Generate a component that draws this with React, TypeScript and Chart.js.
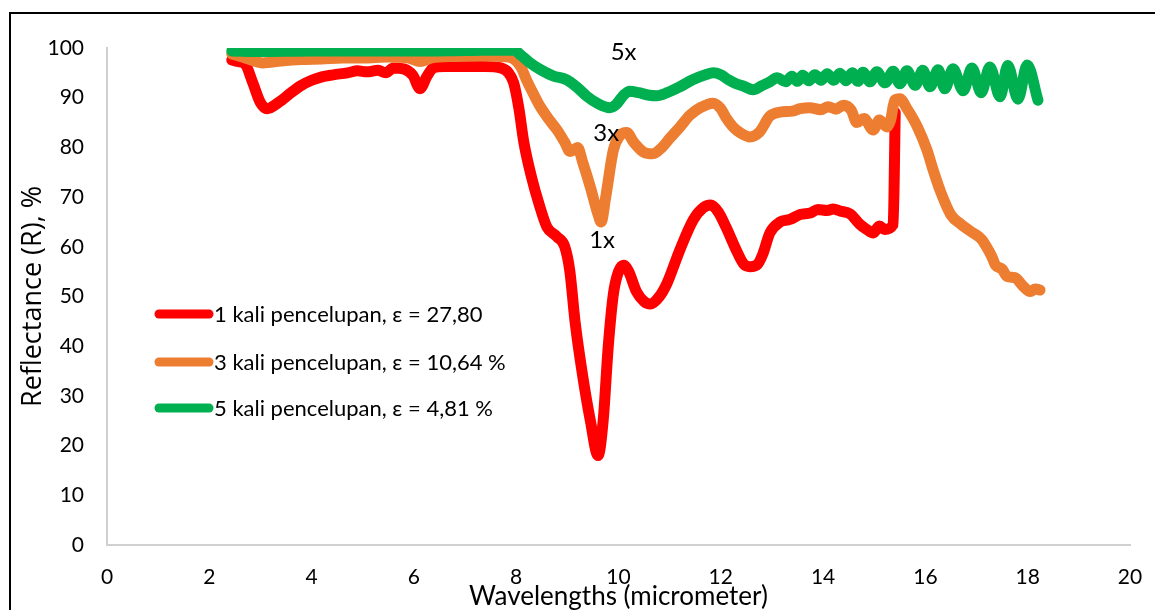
import React, { useEffect, useRef } from "react";
import { Chart, registerables } from "chart.js";
Chart.register(...registerables);

// Wavelength (micrometer) and reflectance (%) for each series
const wl1 = [2.44, 2.55, 2.7, 2.85, 3.0, 3.13, 3.35, 3.6, 3.77, 4.0, 4.2, 4.42, 4.7, 4.9, 5.08, 5.3, 5.45, 5.6, 5.8, 5.98, 6.12, 6.25, 6.38, 6.6, 7.0, 7.4, 7.7, 7.85, 7.95, 8.05, 8.15, 8.3, 8.45, 8.6, 8.8, 8.95, 9.05, 9.15, 9.3, 9.45, 9.6, 9.7, 9.8, 9.9, 10.0, 10.1, 10.2, 10.35, 10.5, 10.62, 10.8, 10.95, 11.2, 11.46, 11.65, 11.8, 11.95, 12.1, 12.3, 12.45, 12.57, 12.72, 12.82, 12.96, 13.16, 13.35, 13.55, 13.75, 13.9, 14.08, 14.2, 14.33, 14.53, 14.72, 14.85, 14.98, 15.1, 15.2, 15.37, 15.41];
const r1 = [97.6, 97.3, 96.8, 93.0, 89.0, 87.8, 89.0, 91.0, 92.3, 93.5, 94.2, 94.6, 95.0, 95.4, 95.2, 95.5, 95.0, 96.0, 95.8, 94.5, 91.8, 94.2, 96.0, 96.3, 96.3, 96.3, 96.0, 95.0, 93.0, 88.0, 81.0, 74.0, 68.5, 64.0, 62.0, 60.0, 55.0, 45.0, 34.0, 25.0, 18.0, 25.0, 40.0, 50.5, 55.0, 56.3, 55.0, 51.0, 49.0, 48.5, 50.0, 52.7, 59.4, 65.4, 67.8, 68.4, 67.0, 64.0, 59.4, 56.5, 56.0, 56.5, 58.5, 62.8, 65.0, 65.5, 66.5, 66.8, 67.5, 67.3, 67.6, 67.2, 66.6, 64.5, 63.5, 62.8, 64.2, 63.5, 64.5, 87.0];

const wl3 = [2.44, 2.7, 3.05, 3.4, 3.8, 4.2, 4.6, 5.0, 5.5, 5.9, 6.12, 6.35, 6.8, 7.3, 7.7, 7.95, 8.1, 8.2, 8.35, 8.47, 8.65, 8.8, 8.95, 9.05, 9.12, 9.2, 9.3, 9.45, 9.6, 9.66, 9.75, 9.9, 10.02, 10.16, 10.3, 10.5, 10.67, 10.85, 11.0, 11.2, 11.4, 11.6, 11.85, 12.0, 12.1, 12.24, 12.4, 12.57, 12.75, 12.96, 13.16, 13.4, 13.55, 13.74, 13.95, 14.1, 14.25, 14.4, 14.55, 14.66, 14.8, 14.98, 15.1, 15.25, 15.32, 15.4, 15.5, 15.64, 15.85, 16.03, 16.15, 16.3, 16.5, 16.7, 16.9, 17.1, 17.17, 17.3, 17.37, 17.5, 17.6, 17.75, 17.9, 18.05, 18.15, 18.24];
const r3 = [98.8, 98.0, 97.0, 97.4, 97.7, 97.8, 98.0, 98.0, 98.2, 98.0, 97.3, 98.0, 98.3, 98.4, 98.3, 97.8, 96.0, 93.6, 90.5, 88.2, 85.5, 83.5, 81.0, 79.2, 79.5, 80.0, 77.0, 72.0, 66.5, 65.0, 70.0, 79.5, 82.3, 83.0, 81.0, 79.0, 78.7, 80.0, 81.8, 84.1, 86.5, 88.0, 88.9, 87.8, 86.0, 84.1, 82.8, 82.1, 83.0, 86.3, 87.1, 87.3, 87.8, 88.0, 87.6, 88.2, 87.7, 88.5, 87.5, 85.0, 85.8, 83.5, 85.5, 84.1, 85.5, 89.5, 89.8, 87.8, 84.0, 79.5, 75.5, 71.0, 66.4, 64.5, 63.0, 61.5, 60.4, 58.0, 56.3, 55.5, 54.0, 53.8, 52.2, 51.0, 51.5, 51.3];

const wl5 = [2.44, 3.0, 4.0, 5.0, 6.0, 7.0, 7.95, 8.1, 8.27, 8.5, 8.72, 8.99, 9.2, 9.38, 9.6, 9.83, 9.95, 10.1, 10.22, 10.4, 10.6, 10.75, 10.95, 11.2, 11.45, 11.7, 11.85, 12.0, 12.15, 12.3, 12.45, 12.63, 12.8, 12.96, 13.1, 13.27, 13.39, 13.5, 13.6, 13.72, 13.84, 13.96, 14.08, 14.21, 14.33, 14.45, 14.57, 14.68, 14.78, 14.92, 15.05, 15.21, 15.37, 15.5, 15.64, 15.8, 15.95, 16.09, 16.25, 16.38, 16.54, 16.74, 16.91, 17.09, 17.26, 17.46, 17.61, 17.81, 17.99, 18.2];
const r5 = [99.4, 99.3, 99.4, 99.4, 99.4, 99.5, 99.6, 98.5, 97.0, 95.5, 94.4, 93.6, 92.0, 90.3, 88.8, 88.0, 88.6, 90.5, 91.3, 91.0, 90.5, 90.4, 91.0, 92.2, 93.6, 94.6, 95.0, 94.6, 93.6, 92.8, 92.3, 91.6, 92.4, 93.2, 94.0, 93.2, 94.3, 93.3, 94.5, 93.4, 94.6, 93.5, 94.8, 93.5, 94.9, 93.4, 95.0, 93.3, 95.1, 93.2, 95.2, 93.0, 95.3, 92.8, 95.4, 92.5, 95.5, 92.2, 95.6, 91.8, 95.8, 91.4, 96.0, 91.0, 96.2, 90.2, 96.5, 89.7, 96.6, 89.5];

const seriesNames = ["1 kali pencelupan, ε = 27,80", "3 kali pencelupan, ε = 10,64 %", "5 kali pencelupan, ε = 4,81 %"];
const seriesColors = ["#FF0000", "#ED7D31", "#00B050"];
const curveLabels = ["1x", "3x", "5x"];
const curveLabelX = [9.68, 9.76, 10.1];
const curveLabelY = [61.4, 82.9, 99.2];
const xTitle = "Wavelengths (micrometer)";
const yTitle = "Reflectance (R), %";

const toPts = (xs: number[], ys: number[]) => xs.map((x, i) => ({ x, y: ys[i] }));

const overlayPlugin = {
  id: "overlay",
  afterDatasetsDraw(chart: any) {
    const { ctx, scales } = chart;
    ctx.save();
    ctx.fillStyle = "#000";
    ctx.font = "24px Lato";
    ctx.textAlign = "center";
    ctx.textBaseline = "middle";
    for (let i = 0; i < curveLabels.length; i++) {
      ctx.fillText(curveLabels[i], scales.x.getPixelForValue(curveLabelX[i]), scales.y.getPixelForValue(curveLabelY[i]));
    }
    const rowY = [314, 362, 408];
    ctx.font = "22px Lato";
    ctx.textAlign = "left";
    for (let i = 0; i < seriesNames.length; i++) {
      ctx.strokeStyle = seriesColors[i];
      ctx.lineWidth = 9;
      ctx.lineCap = "round";
      ctx.beginPath();
      ctx.moveTo(159, rowY[i]);
      ctx.lineTo(209, rowY[i]);
      ctx.stroke();
      ctx.fillStyle = "#000";
      ctx.fillText(seriesNames[i], 214, rowY[i] + 1);
    }
    ctx.restore();
  },
};

export default function App() {
  const ref = useRef<HTMLCanvasElement>(null);
  useEffect(() => {
    const series = [toPts(wl1, r1), toPts(wl3, r3), toPts(wl5, r5)];
    const chart = new Chart(ref.current!, {
      type: "line",
      data: {
        datasets: series.map((d, i) => ({
          label: seriesNames[i],
          data: d,
          borderColor: seriesColors[i],
          backgroundColor: seriesColors[i],
          borderWidth: 11,
          pointRadius: 0,
          cubicInterpolationMode: "monotone" as const,
          borderCapStyle: "round" as const,
          borderJoinStyle: "round" as const,
          order: 3 - i,
          clip: { left: 20, top: 0, right: 20, bottom: 20 },
        })),
      },
      options: {
        animation: false,
        responsive: false,
        maintainAspectRatio: false,
        layout: { padding: { left: 0, top: 48, right: 25, bottom: 0 } },
        plugins: { legend: { display: false }, tooltip: { enabled: false } },
        scales: {
          x: {
            type: "linear",
            min: 0,
            max: 20,
            grid: { display: false, drawTicks: true, tickLength: 15 },
            border: { display: true, color: "#d0d0d0", width: 2 },
            ticks: { stepSize: 2, padding: 5, color: "#000", font: { family: "Lato", size: 21 } },
            title: { display: true, text: xTitle, color: "#000", font: { family: "Lato", size: 26, lineHeight: 1.0 }, padding: { top: 0, bottom: 0 } },
            afterFit: (s: any) => { s.height = 65; },
          },
          y: {
            type: "linear",
            min: 0,
            max: 100,
            grid: { display: false, drawTicks: false },
            border: { display: true, color: "#d0d0d0", width: 2 },
            ticks: { stepSize: 10, padding: 23, color: "#000", font: { family: "Lato", size: 21 } },
            title: { display: true, text: yTitle, color: "#000", font: { family: "Open Sans", size: 27, lineHeight: 1.2 }, padding: { top: 17, bottom: 0 } },
            afterFit: (s: any) => { s.width = 107; },
          },
        },
      },
      plugins: [overlayPlugin],
    });
    return () => chart.destroy();
  }, []);
  return (
    <div style={{ position: "fixed", left: 0, top: 0, width: 1155, height: 610, background: "#fff", overflow: "hidden" }}>
      <div style={{ position: "absolute", left: 9, top: 12, width: 1200, height: 700, borderLeft: "2px solid #000", borderTop: "2px solid #000" }} />
      <canvas ref={ref} width={1155} height={610} style={{ position: "absolute", left: 0, top: 0, width: 1155, height: 610 }} />
    </div>
  );
}
